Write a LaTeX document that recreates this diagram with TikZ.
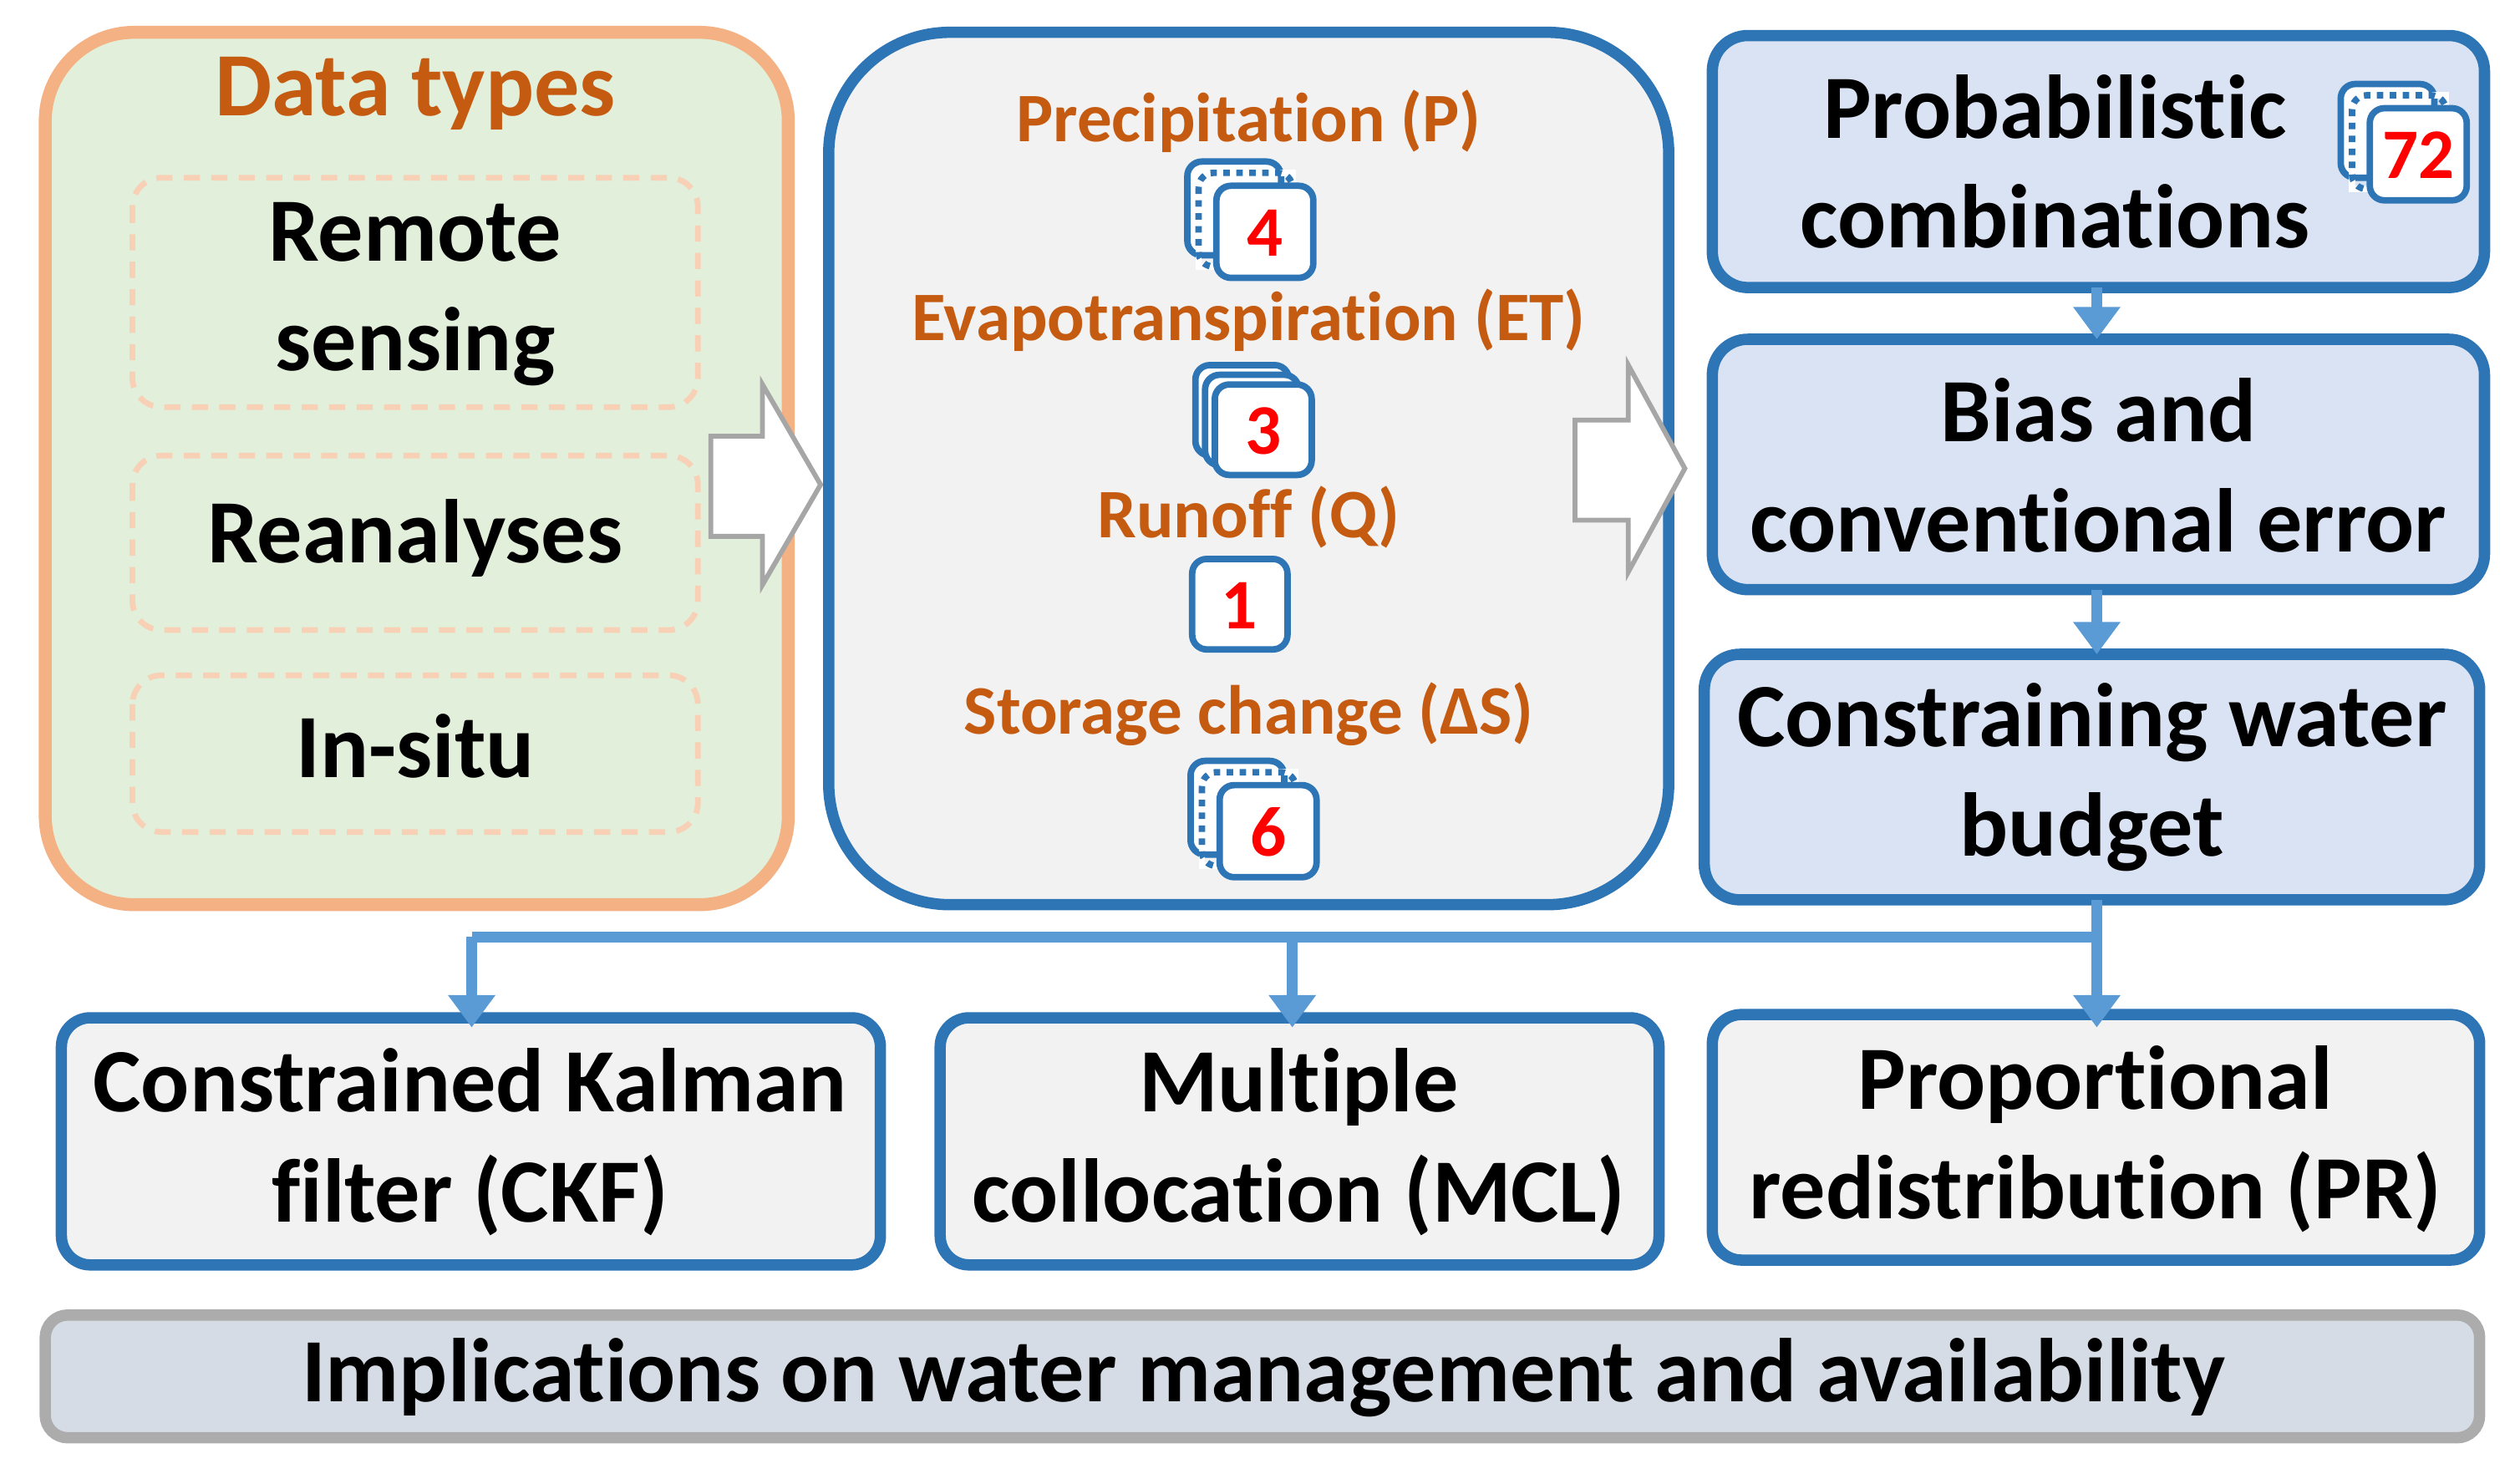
\documentclass[tikz,border=0pt]{standalone}
\usepackage{fontspec}
\setmainfont{Carlito}[Ligatures=NoCommon]
\usetikzlibrary{arrows.meta}
\definecolor{bl}{HTML}{2E75B6}
\definecolor{lb}{HTML}{5B9BD5}
\definecolor{og}{HTML}{C55A11}
\definecolor{pe}{HTML}{F4B183}
\definecolor{gr}{HTML}{E2EFDA}
\definecolor{lg}{HTML}{F2F2F2}
\definecolor{bb}{HTML}{DAE3F3}
\definecolor{sl}{HTML}{D6DCE5}
\begin{document}
\begin{tikzpicture}[x=1pt,y=-1pt,
 big/.style={font=\fontsize{56}{68}\selectfont\bfseries,align=center,text=black},
 lab/.style={font=\fontsize{43}{45}\selectfont\bfseries,text=og},
 bbox/.style={draw=bl,line width=7pt,fill=bb,rounded corners=22pt},
 gbox/.style={draw=bl,line width=7pt,fill=lg,rounded corners=18pt},
 dbox/.style={draw=pe!60,line width=3.5pt,dash pattern=on 10pt off 7pt,rounded corners=18pt},
 hol/.style={draw=gray!70,line width=3pt,fill=white},
 fl/.style={draw=lb,line width=7pt},
 fa/.style={fl,-{Triangle[length=20pt,width=28pt]}},
 sq/.style={draw=bl,line width=4pt,fill=white,rounded corners=9pt},
 dsq/.style={draw=bl,line width=4pt,dash pattern=on 4pt off 4pt,rounded corners=9pt},
 num/.style={font=\fontsize{44}{44}\selectfont\bfseries,text=red}]
\useasboundingbox (0,0) rectangle (1560,918.6);
\newcommand\stackA[4]{% x y num
 \draw[sq,fill=white] (#1-40,#2-40) rectangle (#1+18,#2+18);
 \draw[white,line width=4pt] (#1-33,#2-33) rectangle (#1+25,#2+25);
 \draw[dsq] (#1-33,#2-33) rectangle (#1+25,#2+25);
 \draw[sq] (#1-22,#2-25) rectangle (#1+38,#2+32);
 \node[num] (n#3) at (#1+8,#2+4) {#3};}
% Data types
\draw[draw=pe,line width=8pt,fill=gr,rounded corners=55pt] (28,20) rectangle (488,560);
\node[font=\fontsize{56}{58}\selectfont\bfseries,text=og] (dt) at (257,58) {Data types};
\draw[dbox] (82,110) rectangle (432,252);
\node[big] (rs) at (257,182) {Remote\\sensing};
\draw[dbox] (82,282) rectangle (432,390);
\node[big] (re) at (257,333) {Reanalyses};
\draw[dbox] (82,418) rectangle (432,515);
\node[big] (is) at (257,462) {In-situ};
\draw[hol] (440,270) -- (472,270) -- (472,238) -- (508,300) -- (472,362) -- (472,332) -- (440,332) -- cycle;
% middle
\draw[draw=bl,line width=7pt,fill=lg,rounded corners=75pt] (513,20) rectangle (1033,560);
\node[lab] (p) at (773,75) {Precipitation (P)};
\node[lab] (et) at (773,198) {Evapotranspiration (ET)};
\node[lab] (q) at (773,320) {Runoff (Q)};
\node[lab] (s) at (773,442) {Storage change (Δ\kern-1pt S)};
\stackA{775}{140}{4}{}
\draw[sq] (740,226) rectangle (798,282);
\draw[sq] (746,232) rectangle (804,288);
\draw[sq] (752,238) rectangle (812,294);
\node[num] (n3) at (782,267) {3};
\draw[sq] (738,346) rectangle (797,402);
\node[num] (n1) at (767,375) {1};
\stackA{777}{511}{6}{}
\draw[hol] (975,260) -- (1008,260) -- (1008,226) -- (1043,290) -- (1008,354) -- (1008,322) -- (975,322) -- cycle;
% right column
\draw[bbox] (1060,22) rectangle (1538,178);
\node[big] (pc) at (1272,100) {Probabilistic\\combinations};
\stackA{1489}{92}{72}{}
\draw[bbox] (1060,210) rectangle (1538,365);
\node[big] (bi) at (1299,288) {Bias and\\conventional error};
\draw[bbox] (1055,405) rectangle (1535,557);
\node[big] (cw) at (1295,481) {Constraining water\\budget};
\coordinate (a1) at (1298,178); \coordinate (a2) at (1298,210);
\draw[fa] (a1) -- (a2);
\coordinate (b1) at (1298,365); \coordinate (b2) at (1298,405);
\draw[fa] (b1) -- (b2);
% bottom
\draw[gbox] (38,630) rectangle (545,783);
\node[big] (ckf) at (291,707) {Constrained Kalman\\filter (CKF)};
\draw[gbox] (582,630) rectangle (1027,783);
\node[big] (mcl) at (804,707) {Multiple\\collocation (MCL)};
\draw[gbox] (1060,628) rectangle (1535,780);
\node[big] (pr) at (1297,705) {Proportional\\redistribution (PR)};
\coordinate (c0) at (1298,557); \coordinate (c1) at (1298,580);
\coordinate (l) at (292,580); \coordinate (m) at (800,580);
\draw[fl] (c0) -- (c1) -- (l);
\draw[fa] (l) -- (292,636);
\draw[fa] (m) -- (800,636);
\draw[fa] (c1) -- (1298,636);
\draw[draw=gray!65,line width=7pt,fill=sl,rounded corners=14pt] (28,814) rectangle (1535,890);
\node[big] (imp) at (782,853) {Implications on water management and availability};
\end{tikzpicture}
\end{document}
